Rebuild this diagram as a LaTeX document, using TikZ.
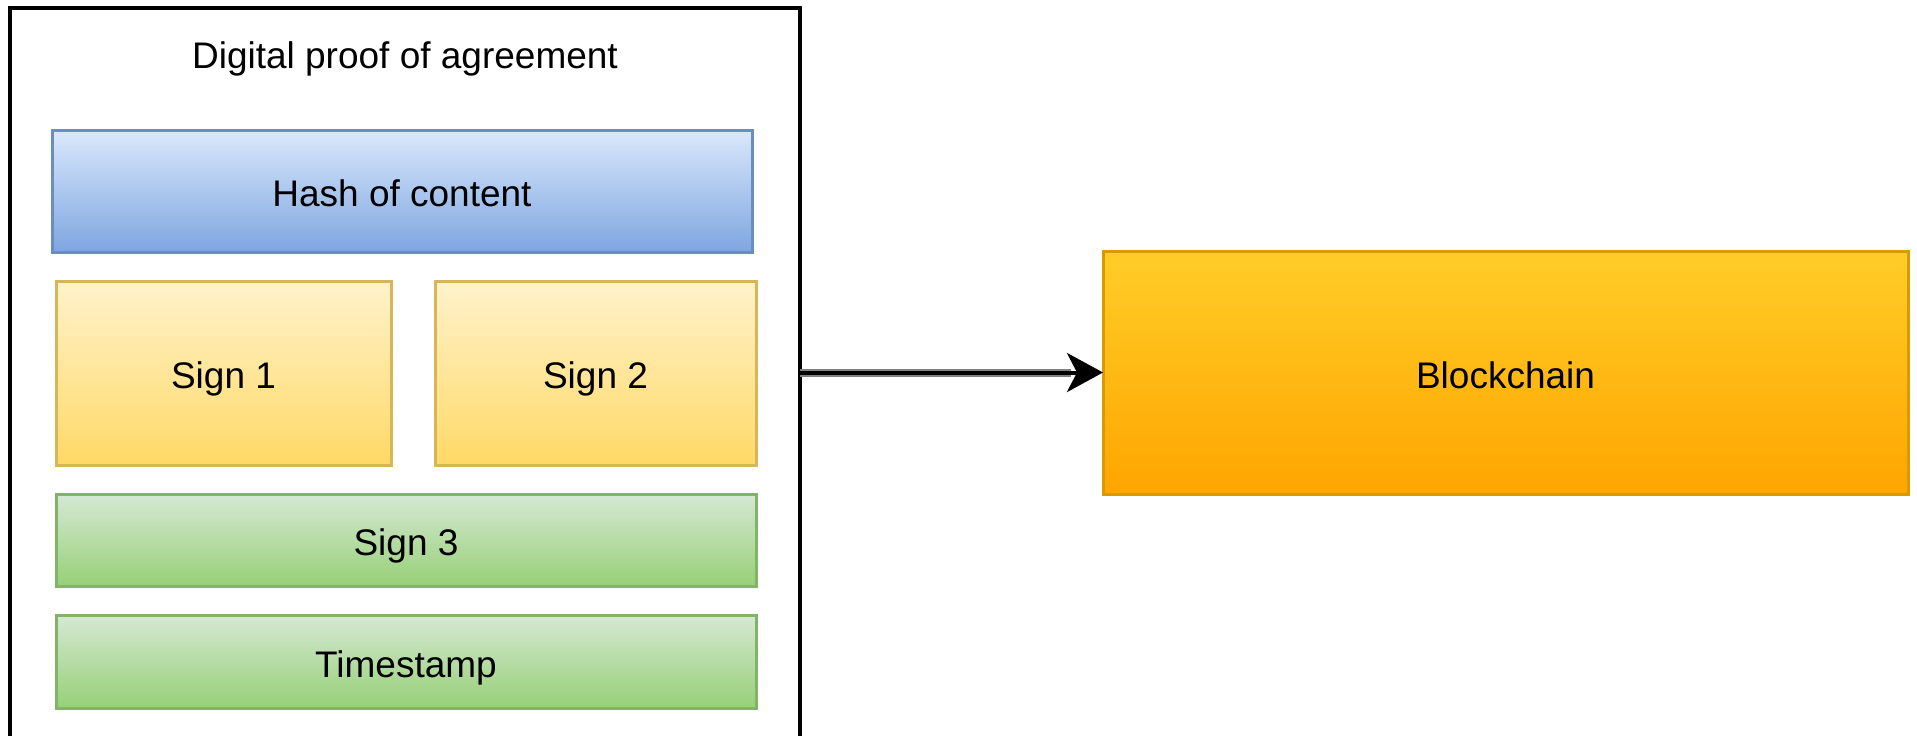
\documentclass[tikz,border=0pt]{standalone}
\usepackage{fontspec}
\setmainfont{Liberation Sans}
\usetikzlibrary{arrows.meta}

\definecolor{hashtop}{HTML}{DAE8FC}
\definecolor{hashbot}{HTML}{7EA6E0}
\definecolor{hashline}{HTML}{6C8EBF}
\definecolor{signtop}{HTML}{FFF2CC}
\definecolor{signbot}{HTML}{FFD966}
\definecolor{signline}{HTML}{D6B656}
\definecolor{greentop}{HTML}{D5E8D4}
\definecolor{greenbot}{HTML}{97D077}
\definecolor{greenline}{HTML}{82B366}
\definecolor{chaintop}{HTML}{FFCD28}
\definecolor{chainbot}{HTML}{FFA500}
\definecolor{chainline}{HTML}{D79B00}
\definecolor{halo}{HTML}{808080}

\tikzset{
  label font/.style={font=\fontsize{18.5}{22}\selectfont},
  box/.style={rectangle, draw, line width=1.5pt, outer sep=0pt, inner sep=0pt,
    label font, text height=15.7pt, text depth=0pt},
  hashbox/.style={box, draw=hashline, top color=hashtop, bottom color=hashbot},
  signbox/.style={box, draw=signline, top color=signtop, bottom color=signbot},
  greenbox/.style={box, draw=greenline, top color=greentop, bottom color=greenbot},
  chainbox/.style={box, draw=chainline, top color=chaintop, bottom color=chainbot},
  frame/.style={rectangle, draw=black, line width=2pt, outer sep=0pt, fill=white},
  flowhalo/.style={draw=halo, line width=4pt},
  flow/.style={draw=black, line width=2pt,
    -{Stealth[length=18pt, width=19.5pt, inset=5pt]}}
}

\begin{document}
\begin{tikzpicture}[x=0.5pt, y=-0.5pt]
  \useasboundingbox (0,0) rectangle (1917,735);
  \clip (0,0) rectangle (1917,735);

  % container of the proof (its lower edge runs off the page)
  \node[frame, minimum width=395pt, minimum height=381pt] (proof) at (405,389) {};
  \node[label font, anchor=base, inner sep=0pt] (title) at (405,68.3) {Digital proof of agreement};

  % parts of the proof
  \node[hashbox, minimum width=350pt, minimum height=61pt] (hash) at (402,191) {Hash of content};
  \node[signbox, minimum width=167.5pt, minimum height=92pt] (sign1) at (223.5,373) {Sign 1};
  \node[signbox, minimum width=160.5pt, minimum height=92pt] (sign2) at (595.5,373) {Sign 2};
  \node[greenbox, minimum width=350pt, minimum height=46pt] (sign3) at (406,540) {Sign 3};
  \node[greenbox, minimum width=350pt, minimum height=46.5pt] (stamp) at (406,661.5) {Timestamp};

  % target
  \node[chainbox, minimum width=402.5pt, minimum height=121.5pt] (chain) at (1505.5,372.5) {Blockchain};

  % connector
  \draw[flowhalo, shorten >=16pt] (proof.east |- chain.west) -- (chain.west);
  \draw[flow] (proof.east |- chain.west) -- (chain.west);
\end{tikzpicture}
\end{document}
